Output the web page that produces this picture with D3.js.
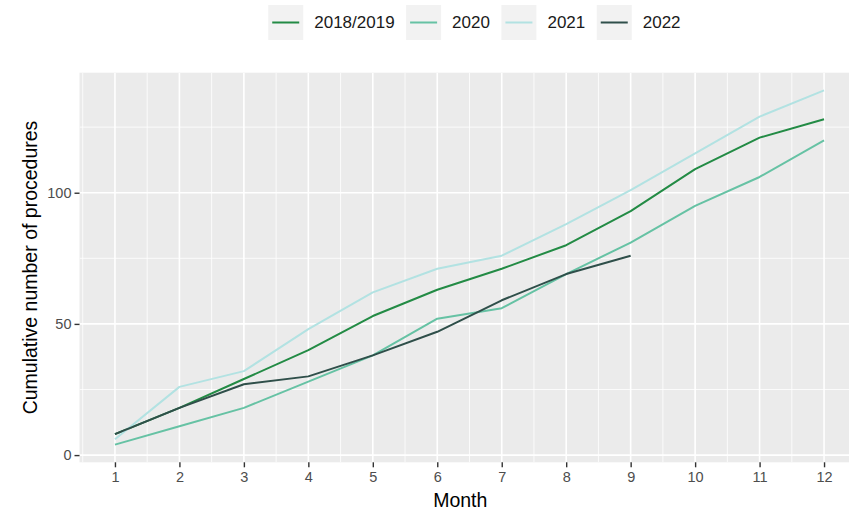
<!DOCTYPE html>
<html>
<head>
<meta charset="utf-8">
<script src="https://cdn.jsdelivr.net/npm/d3@7"></script>
<style>
  html, body { margin: 0; padding: 0; background: #fff; }
  svg { display: block; font-family: "Liberation Sans", Arial, Helvetica, sans-serif; }
</style>
</head>
<body>
<svg id="chart" width="849" height="516"></svg>
<script>
// ---- data ----
const months = [1, 2, 3, 4, 5, 6, 7, 8, 9, 10, 11, 12];
const seriesNames = ["2018/2019", "2020", "2021", "2022"];
const seriesColors = ["#238B45", "#66C2A4", "#B2E2E2", "#2F4F4A"];
const values2018_2019 = [8, 18, 29, 40, 53, 63, 71, 80, 93, 109, 121, 128];
const values2020 = [4, 11, 18, 28, 38, 52, 56, 69, 81, 95, 106, 120];
const values2021 = [6, 26, 32, 48, 62, 71, 76, 88, 101, 115, 129, 139];
const values2022 = [8, 18, 27, 30, 38, 47, 59, 69, 76];
const yTicks = [0, 50, 100];
const yMinorTicks = [25, 75, 125];
const xMinorTicks = [0.5, 1.5, 2.5, 3.5, 4.5, 5.5, 6.5, 7.5, 8.5, 9.5, 10.5, 11.5, 12.5];
const xTitle = "Month";
const yTitle = "Cumulative number of procedures";

const seriesValues = [values2018_2019, values2020, values2021, values2022];
const series = seriesNames.map((name, i) => ({
  name, color: seriesColors[i],
  points: seriesValues[i].map((v, j) => ({ month: months[j], value: v }))
}));

// ---- layout ----
const svg = d3.select("#chart");
const panel = { left: 79.5, right: 859.5, top: 72.7, bottom: 462.3 };

const allVals = seriesValues.flat();
const yMin = d3.min(allVals), yMax = d3.max(allVals);
const yPad = (yMax - yMin) * 0.05;
const xPad = (d3.max(months) - d3.min(months)) * 0.05;

const x = d3.scaleLinear()
  .domain([d3.min(months) - xPad, d3.max(months) + xPad])
  .range([panel.left, panel.right]);
const y = d3.scaleLinear()
  .domain([yMin - yPad, yMax + yPad])
  .range([panel.bottom, panel.top]);

// panel background
svg.append("rect")
  .attr("x", panel.left).attr("y", panel.top)
  .attr("width", panel.right - panel.left).attr("height", panel.bottom - panel.top)
  .attr("fill", "#EBEBEB");

svg.append("defs").append("clipPath").attr("id", "pclip")
  .append("rect")
  .attr("x", panel.left).attr("y", panel.top)
  .attr("width", panel.right - panel.left).attr("height", panel.bottom - panel.top);

const grid = svg.append("g").attr("clip-path", "url(#pclip)");
// minor grid
grid.selectAll("line.ymin").data(yMinorTicks).enter().append("line")
  .attr("x1", panel.left).attr("x2", panel.right)
  .attr("y1", d => y(d)).attr("y2", d => y(d))
  .attr("stroke", "#fff").attr("stroke-width", 0.8);
grid.selectAll("line.xmin").data(xMinorTicks).enter().append("line")
  .attr("y1", panel.top).attr("y2", panel.bottom)
  .attr("x1", d => x(d)).attr("x2", d => x(d))
  .attr("stroke", "#fff").attr("stroke-width", 0.8);
// major grid
grid.selectAll("line.ymaj").data(yTicks).enter().append("line")
  .attr("x1", panel.left).attr("x2", panel.right)
  .attr("y1", d => y(d)).attr("y2", d => y(d))
  .attr("stroke", "#fff").attr("stroke-width", 1.6);
grid.selectAll("line.xmaj").data(months).enter().append("line")
  .attr("y1", panel.top).attr("y2", panel.bottom)
  .attr("x1", d => x(d)).attr("x2", d => x(d))
  .attr("stroke", "#fff").attr("stroke-width", 1.6);

// lines
const line = d3.line().x(d => x(d.month)).y(d => y(d.value));
const lines = svg.append("g").attr("clip-path", "url(#pclip)");
series.forEach(s => {
  lines.append("path")
    .datum(s.points)
    .attr("d", line)
    .attr("fill", "none")
    .attr("stroke", s.color)
    .attr("stroke-width", 2)
    .attr("stroke-linejoin", "round");
});

// axes
const xAxis = d3.axisBottom(x).tickValues(months).tickSize(5).tickPadding(4).tickFormat(d3.format("d"));
const gx = svg.append("g").attr("transform", `translate(0,${panel.bottom})`).call(xAxis);
gx.select(".domain").remove();
gx.selectAll(".tick line").attr("stroke", "#333333").attr("stroke-width", 1.4);
gx.selectAll(".tick text").attr("fill", "#4D4D4D").attr("font-size", 14.5)
  .attr("font-family", "'Liberation Sans', Arial, sans-serif");

const yAxis = d3.axisLeft(y).tickValues(yTicks).tickSize(5).tickPadding(3);
const gy = svg.append("g").attr("transform", `translate(${panel.left},0)`).call(yAxis);
gy.select(".domain").remove();
gy.selectAll(".tick line").attr("stroke", "#333333").attr("stroke-width", 1.4);
gy.selectAll(".tick text").attr("fill", "#4D4D4D").attr("font-size", 14.5)
  .attr("font-family", "'Liberation Sans', Arial, sans-serif");

// titles
svg.append("text")
  .attr("x", (panel.left + 849) / 2 - 4).attr("y", 507)
  .attr("text-anchor", "middle").attr("font-size", 19.5).attr("fill", "#000")
  .text(xTitle);
svg.append("text")
  .attr("transform", `translate(37,${(panel.top + panel.bottom) / 2}) rotate(-90)`)
  .attr("text-anchor", "middle").attr("font-size", 19.5).attr("fill", "#000")
  .text(yTitle);

// legend
const legend = svg.append("g");
const keySize = 35, keyGap = 11, itemGap = 11.5, legTop = 5;
const items = [];
series.forEach(s => {
  const g = legend.append("g");
  g.append("rect").attr("x", 0).attr("y", legTop).attr("width", keySize).attr("height", keySize)
    .attr("fill", "#F2F2F2");
  g.append("line").attr("x1", 4).attr("x2", keySize - 4)
    .attr("y1", legTop + keySize / 2).attr("y2", legTop + keySize / 2)
    .attr("stroke", s.color).attr("stroke-width", 2);
  const t = g.append("text").attr("x", keySize + keyGap).attr("y", legTop + keySize / 2)
    .attr("dy", "0.35em").attr("font-size", 17).attr("fill", "#1A1A1A").text(s.name);
  const w = t.node().getComputedTextLength();
  items.push({ g, w });
});
let total = 0;
items.forEach((it, i) => { total += keySize + keyGap + it.w + (i < items.length - 1 ? itemGap : 0); });
let start = 474.4 - total / 2;
items.forEach(it => {
  it.g.attr("transform", `translate(${start},0)`);
  start += keySize + keyGap + it.w + itemGap;
});
</script>
</body>
</html>
